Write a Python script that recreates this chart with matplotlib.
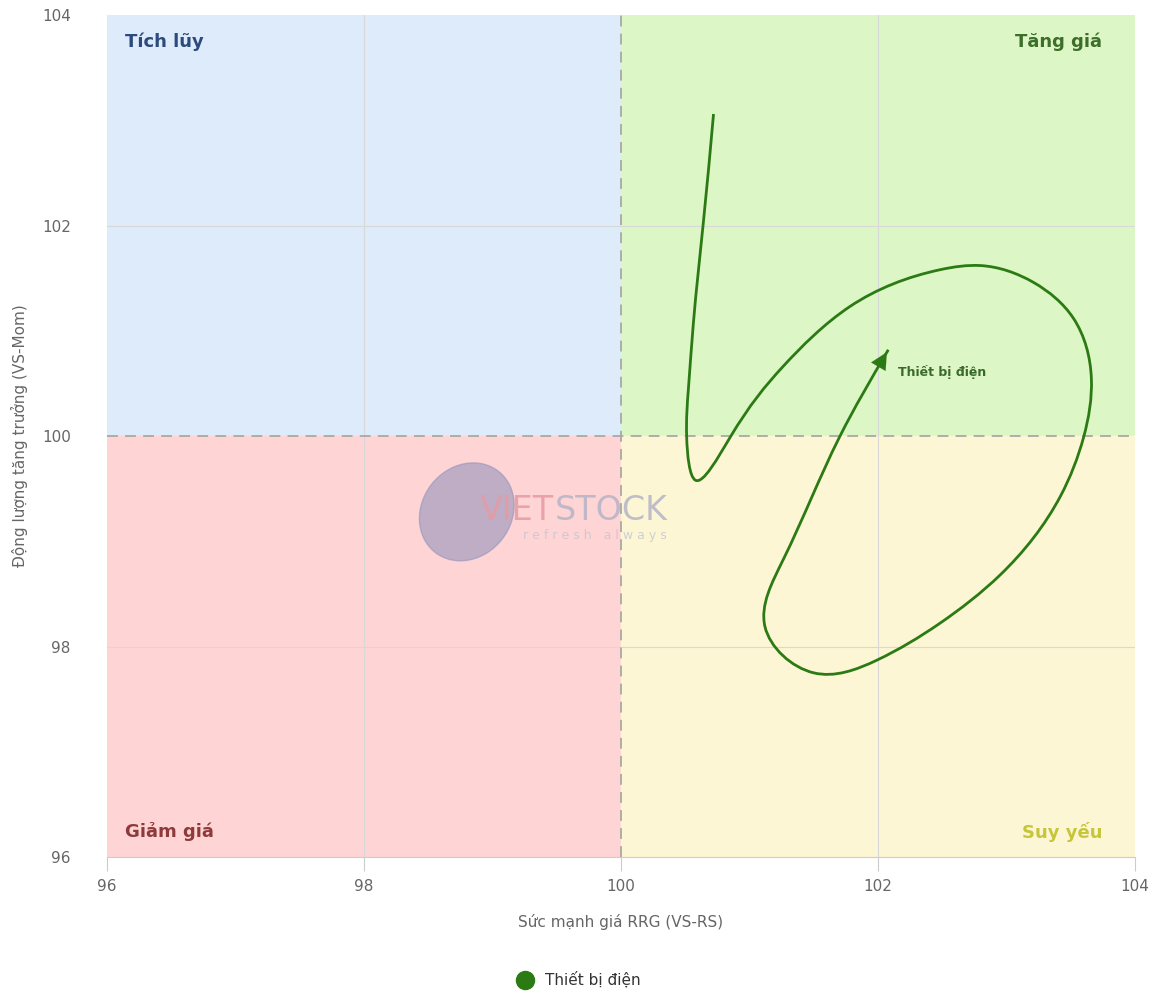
import matplotlib.pyplot as plt
from matplotlib.path import Path
from matplotlib.patches import PathPatch, Rectangle, Ellipse
from matplotlib.lines import Line2D
import numpy as np

# Dati
ten_nganh = 'Thiết bị điện'
rs = [100.72, 100.64, 100.563, 100.524, 100.511, 100.58, 100.85, 101.26, 101.78, 102.48,
      102.80, 103.21, 103.52, 103.66, 103.60, 103.42, 102.95, 102.48, 101.99, 101.50,
      101.12, 101.26, 101.70, 102.08]
mom = [103.06, 102.02, 101.07, 100.44, 99.99, 99.58, 99.99, 100.66, 101.23, 101.58,
       101.62, 101.46, 101.12, 100.55, 99.99, 99.43, 98.68, 98.22, 97.87, 97.75,
       98.19, 98.82, 99.99, 100.82]
ticks = [96, 98, 100, 102, 104]
quadranti = ['Tích lũy', 'Tăng giá', 'Giảm giá', 'Suy yếu']

verde = '#2b7a14'
grigio = '#666666'

fig = plt.figure(figsize=(11.5, 9.94), dpi=100)
ax = fig.add_axes([0.093, 0.1378, 0.894, 0.847])
ax.set_xlim(96, 104)
ax.set_ylim(96, 104)

# sfondo quadranti
ax.add_patch(Rectangle((96, 100), 4, 4, color='#deebfb', zorder=0))
ax.add_patch(Rectangle((100, 100), 4, 4, color='#ddf6c6', zorder=0))
ax.add_patch(Rectangle((96, 96), 4, 4, color='#ffd4d4', zorder=0))
ax.add_patch(Rectangle((100, 96), 4, 4, color='#fdf6d4', zorder=0))

for t in [98, 102]:
    ax.axvline(t, color='#d8d8d8', lw=0.8, zorder=1)
    ax.axhline(t, color='#d8d8d8', lw=0.8, zorder=1)
ax.axvline(100, color='#a8a8a8', lw=1.3, ls=(0, (6, 4)), zorder=2)
ax.axhline(100, color='#a8a8a8', lw=1.3, ls=(0, (6, 4)), zorder=2)

# etichette dei quadranti
kw = dict(fontsize=13, fontweight='bold', transform=ax.transAxes, va='center')
ax.text(0.0175, 0.968, quadranti[0], color='#2c4b7c', ha='left', **kw)
ax.text(0.968, 0.968, quadranti[1], color='#3d6e2a', ha='right', **kw)
ax.text(0.0175, 0.03, quadranti[2], color='#8e3a3a', ha='left', **kw)
ax.text(0.968, 0.03, quadranti[3], color='#c6c63a', ha='right', **kw)

# watermark
ax.add_patch(Ellipse((0.35, 0.41), 0.09, 0.118, angle=-15, transform=ax.transAxes,
                     color='#9494bc', alpha=0.6, zorder=2))
ax.text(0.363, 0.412, 'VIET', transform=ax.transAxes, fontsize=24,
        color='#e79aa2', alpha=0.85, va='center', ha='left', zorder=2)
ax.text(0.436, 0.412, 'STOCK', transform=ax.transAxes, fontsize=24,
        color='#b4b4c6', alpha=0.85, va='center', ha='left', zorder=2)
ax.text(0.405, 0.382, 'r e f r e s h   a l w a y s', transform=ax.transAxes, fontsize=9,
        color='#c4c4d0', alpha=0.8, va='center', ha='left', zorder=2)

# spline cubica naturale (lunghezza di corda) -> segmenti di Bezier
p = np.column_stack([rs, mom])
scala = np.array([128.5, 105.25])  # px per unità
h = np.linalg.norm(np.diff(p * scala, axis=0), axis=1)
n = len(p)
A = np.zeros((n, n))
b = np.zeros((n, 2))
A[0, 0] = A[-1, -1] = 1
for i in range(1, n - 1):
    A[i, i - 1] = h[i - 1]
    A[i, i] = 2 * (h[i - 1] + h[i])
    A[i, i + 1] = h[i]
    b[i] = 6 * ((p[i + 1] - p[i]) / h[i] - (p[i] - p[i - 1]) / h[i - 1])
M = np.linalg.solve(A, b)
verts = [p[0]]
codes = [Path.MOVETO]
for i in range(n - 1):
    s = (p[i + 1] - p[i]) / h[i]
    d0 = s - h[i] * (2 * M[i] + M[i + 1]) / 6
    d1 = s + h[i] * (M[i] + 2 * M[i + 1]) / 6
    verts += [p[i] + d0 * h[i] / 3, p[i + 1] - d1 * h[i] / 3, p[i + 1]]
    codes += [Path.CURVE4] * 3
ax.add_patch(PathPatch(Path(verts, codes), fill=False, edgecolor=verde, lw=2, zorder=4))

# freccia finale (direzione della tangente finale)
coda = np.array(verts[-2])
ax.annotate('', xy=(rs[-1], mom[-1]), xytext=(coda[0], coda[1]),
            arrowprops=dict(arrowstyle='-|>', mutation_scale=30, color=verde, lw=0.1),
            zorder=5)
ax.annotate(ten_nganh, xy=(rs[-1], mom[-1]), xytext=(7, -16), textcoords='offset points',
            fontsize=9, fontweight='bold', color='#3a6a2a', va='center', ha='left')

# assi
ax.set_xticks(ticks)
ax.set_yticks(ticks)
ax.tick_params(axis='x', colors='#cccccc', length=10, labelcolor=grigio, labelsize=11, pad=6)
ax.tick_params(axis='y', length=0, labelcolor=grigio, labelsize=11, pad=26)
for s in ['top', 'right', 'left']:
    ax.spines[s].set_visible(False)
ax.spines['bottom'].set_color('#cccccc')
ax.set_xlabel('Sức mạnh giá RRG (VS-RS)', color=grigio, fontsize=11, labelpad=14)
ax.set_ylabel('Động lượng tăng trưởng (VS-Mom)', color=grigio, fontsize=11, labelpad=10)

# legenda
handle = Line2D([], [], marker='o', ls='', color=verde, markersize=13)
fig.legend([handle], [ten_nganh], loc='center', bbox_to_anchor=(0.5, 0.014),
           frameon=False, fontsize=11, labelcolor='#333333', handletextpad=0.3)

plt.savefig('out.png', dpi=100)
